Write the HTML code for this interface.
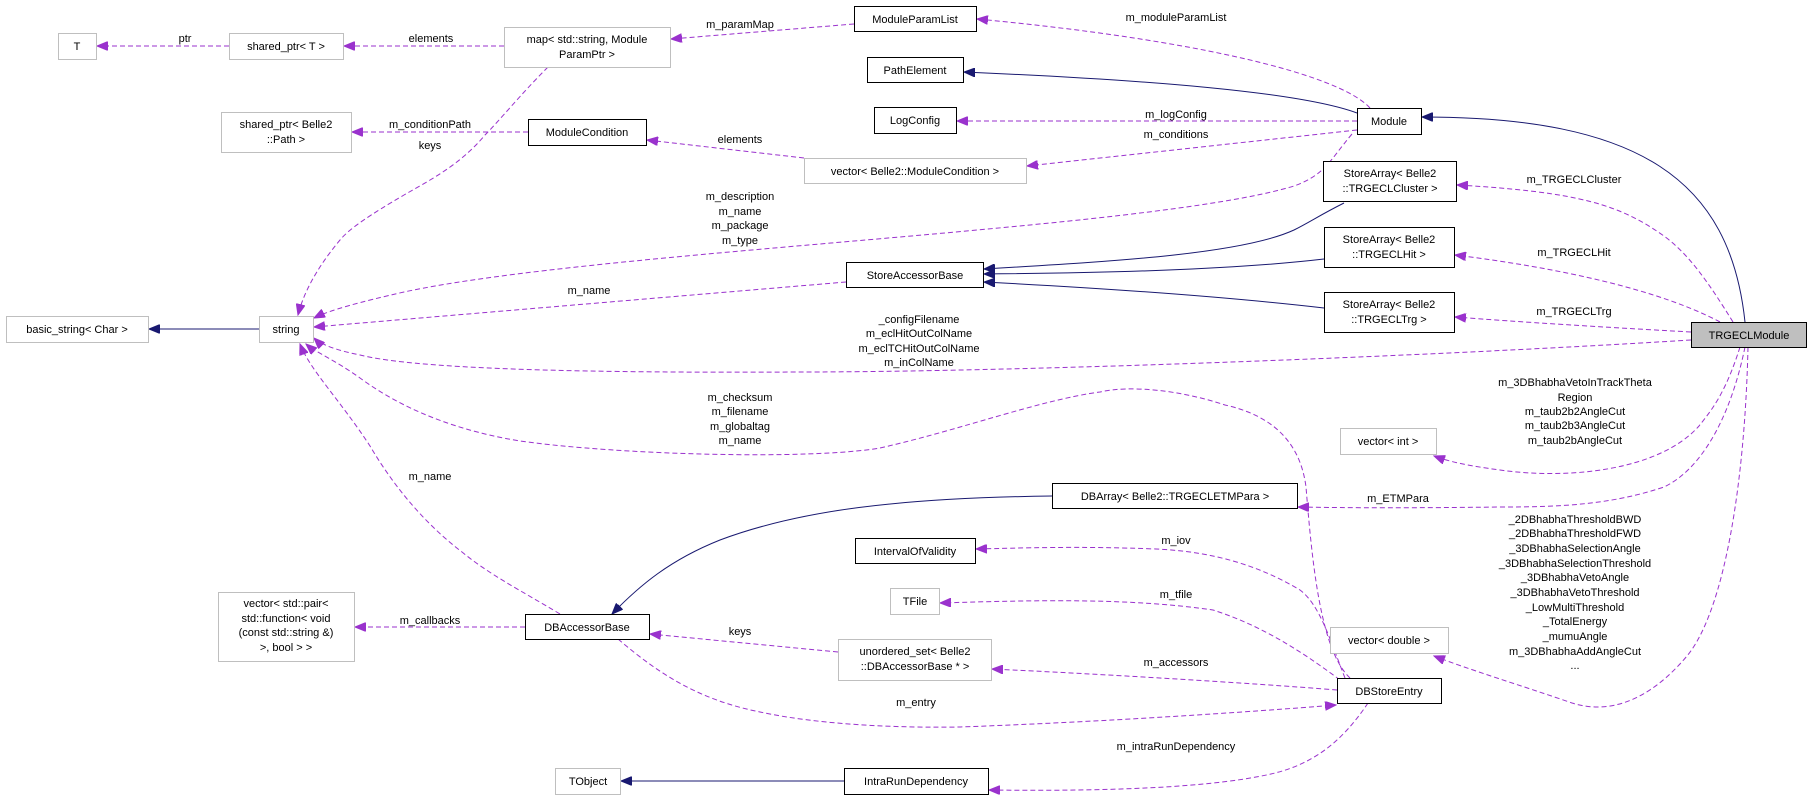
<!DOCTYPE html>
<html><head><meta charset="utf-8"><style>
html,body{margin:0;padding:0;background:#fff;}
svg{display:block;}
text{font-family:"Liberation Sans",Arial,sans-serif;font-size:11px;fill:#000;}
.n{fill:#fff;stroke:#000;stroke-width:1;}
.g{fill:#fff;stroke:#bfbfbf;stroke-width:1;}
.d{fill:none;stroke:#9a32cd;stroke-width:1;stroke-dasharray:5,3;}
.s{fill:none;stroke:#191970;stroke-width:1;}
</style></head><body>
<svg width="1812" height="800" viewBox="0 0 1812 800" xmlns="http://www.w3.org/2000/svg">
<defs>
<marker id="ap" markerWidth="12" markerHeight="9" refX="11" refY="4.5" orient="auto" markerUnits="userSpaceOnUse"><path d="M0,0 L11,4.5 L0,9 z" fill="#9a32cd" stroke="#9a32cd"/></marker>
<marker id="ab" markerWidth="12" markerHeight="9" refX="11" refY="4.5" orient="auto" markerUnits="userSpaceOnUse"><path d="M0,0 L11,4.5 L0,9 z" fill="#191970" stroke="#191970"/></marker>
</defs>

<!-- edges -->
<path class="d" marker-end="url(#ap)" d="M229,46 L97,46"/>
<path class="d" marker-end="url(#ap)" d="M504,46 L344,46"/>
<path class="d" marker-end="url(#ap)" d="M854,24 L671,39"/>
<path class="d" marker-end="url(#ap)" d="M528,132 L352,132"/>
<path class="d" marker-end="url(#ap)" d="M548,67 C520,95 500,120 485,135 C460,165 430,180 404,195 C370,215 350,228 340,240 C315,270 303,295 298,315"/>
<path class="d" marker-end="url(#ap)" d="M804,158 L647,140"/>
<path class="d" marker-end="url(#ap)" d="M1370,108 C1340,75 1200,40 977,19"/>
<path class="s" marker-end="url(#ab)" d="M1357,113 C1300,92 1150,80 964,72"/>
<path class="d" marker-end="url(#ap)" d="M1357,121 L957,121"/>
<path class="d" marker-end="url(#ap)" d="M1357,130 L1027,166"/>
<path class="d" marker-end="url(#ap)" d="M1352,134 C1330,160 1325,175 1294,186 C1150,230 600,250 404,292 C360,302 330,310 314,318"/>
<path class="d" marker-end="url(#ap)" d="M846,282 L314,327"/>
<path class="s" marker-end="url(#ab)" d="M1344,203 C1320,215 1310,222 1294,230 C1240,255 1100,262 984,269"/>
<path class="s" marker-end="url(#ab)" d="M1324,259 C1230,270 1100,273 984,274"/>
<path class="s" marker-end="url(#ab)" d="M1324,308 C1220,296 1100,288 984,282"/>
<path class="s" marker-end="url(#ab)" d="M1745,322 C1730,180 1640,117 1422,117"/>
<path class="d" marker-end="url(#ap)" d="M1733,322 C1710,285 1690,255 1664,236 C1620,205 1580,192 1457,185"/>
<path class="d" marker-end="url(#ap)" d="M1720,322 C1660,290 1560,268 1455,255"/>
<path class="d" marker-end="url(#ap)" d="M1691,332 C1600,327 1520,322 1455,317"/>
<path class="d" marker-end="url(#ap)" d="M1691,340 C1400,358 1000,372 800,372 C600,373 420,370 360,355 C335,350 320,344 314,338"/>
<path class="d" marker-end="url(#ap)" d="M1740,347 C1725,395 1710,412 1699,426 C1660,470 1570,480 1500,470 C1470,466 1450,462 1434,456"/>
<path class="d" marker-end="url(#ap)" d="M1745,347 C1730,420 1700,470 1664,487 C1610,505 1560,507 1500,507 C1420,508 1350,508 1298,507"/>
<path class="d" marker-end="url(#ap)" d="M1748,347 C1745,480 1725,610 1687,656 C1650,700 1610,715 1572,703 C1520,685 1470,670 1434,656"/>
<path class="d" marker-end="url(#ap)" d="M1350,678 C1320,650 1312,560 1306,487 C1300,440 1270,415 1225,405 C1180,390 1130,385 1100,392 C1040,400 960,430 880,448 C810,460 620,455 520,441 C440,428 390,400 360,378 C335,360 315,352 306,344"/>
<path class="d" marker-end="url(#ap)" d="M1345,678 C1330,640 1320,605 1300,590 C1250,560 1200,551 1156,549 C1080,546 1020,548 976,549"/>
<path class="d" marker-end="url(#ap)" d="M1340,680 C1300,650 1260,625 1213,610 C1130,598 1040,600 940,603"/>
<path class="d" marker-end="url(#ap)" d="M1337,690 C1250,683 1100,674 992,669"/>
<path class="d" marker-end="url(#ap)" d="M618,639 C660,675 700,700 760,712 C820,725 900,728 960,727 C1100,722 1250,712 1336,705"/>
<path class="d" marker-end="url(#ap)" d="M838,652 L650,634"/>
<path class="d" marker-end="url(#ap)" d="M525,627 L355,627"/>
<path class="d" marker-end="url(#ap)" d="M560,614 C520,590 490,575 462,552 C420,520 390,480 370,446 C340,400 310,370 300,344"/>
<path class="s" marker-end="url(#ab)" d="M1052,496 C900,498 800,510 720,540 C670,560 640,585 612,614"/>
<path class="s" marker-end="url(#ab)" d="M844,781 L621,781"/>
<path class="d" marker-end="url(#ap)" d="M1368,703 C1340,745 1310,765 1271,774 C1200,790 1080,791 989,790"/>
<path class="s" marker-end="url(#ab)" d="M259,329 L149,329"/>

<!-- edge labels -->
<g text-anchor="middle">
<text x="185" y="42">ptr</text>
<text x="431" y="42">elements</text>
<text x="740" y="28">m_paramMap</text>
<text x="430" y="128">m_conditionPath</text>
<text x="430" y="149">keys</text>
<text x="740" y="143">elements</text>
<text x="1176" y="21">m_moduleParamList</text>
<text x="1176" y="118">m_logConfig</text>
<text x="1176" y="138">m_conditions</text>
<text x="740" y="200">m_description</text>
<text x="740" y="215">m_name</text>
<text x="740" y="229">m_package</text>
<text x="740" y="244">m_type</text>
<text x="589" y="294">m_name</text>
<text x="1574" y="183">m_TRGECLCluster</text>
<text x="1574" y="256">m_TRGECLHit</text>
<text x="1574" y="315">m_TRGECLTrg</text>
<text x="919" y="323">_configFilename</text>
<text x="919" y="337">m_eclHitOutColName</text>
<text x="919" y="352">m_eclTCHitOutColName</text>
<text x="919" y="366">m_inColName</text>
<text x="740" y="401">m_checksum</text>
<text x="740" y="415">m_filename</text>
<text x="740" y="430">m_globaltag</text>
<text x="740" y="444">m_name</text>
<text x="1575" y="386">m_3DBhabhaVetoInTrackTheta</text>
<text x="1575" y="401">Region</text>
<text x="1575" y="415">m_taub2b2AngleCut</text>
<text x="1575" y="429">m_taub2b3AngleCut</text>
<text x="1575" y="444">m_taub2bAngleCut</text>
<text x="1398" y="502">m_ETMPara</text>
<text x="1575" y="523">_2DBhabhaThresholdBWD</text>
<text x="1575" y="537">_2DBhabhaThresholdFWD</text>
<text x="1575" y="552">_3DBhabhaSelectionAngle</text>
<text x="1575" y="567">_3DBhabhaSelectionThreshold</text>
<text x="1575" y="581">_3DBhabhaVetoAngle</text>
<text x="1575" y="596">_3DBhabhaVetoThreshold</text>
<text x="1575" y="611">_LowMultiThreshold</text>
<text x="1575" y="625">_TotalEnergy</text>
<text x="1575" y="640">_mumuAngle</text>
<text x="1575" y="655">m_3DBhabhaAddAngleCut</text>
<text x="1575" y="669">...</text>
<text x="1176" y="544">m_iov</text>
<text x="1176" y="598">m_tfile</text>
<text x="1176" y="666">m_accessors</text>
<text x="916" y="706">m_entry</text>
<text x="740" y="635">keys</text>
<text x="430" y="624">m_callbacks</text>
<text x="430" y="480">m_name</text>
<text x="1176" y="750">m_intraRunDependency</text>
</g>

<!-- nodes -->
<rect class="g" x="58.5" y="33.5" width="38" height="26"/>
<rect class="g" x="229.5" y="33.5" width="114" height="26"/>
<rect class="g" x="504.5" y="27.5" width="166" height="40"/>
<rect class="g" x="221.5" y="112.5" width="130" height="40"/>
<rect class="n" x="528.5" y="119.5" width="118" height="26"/>
<rect class="n" x="854.5" y="6.5" width="122" height="25"/>
<rect class="n" x="867.5" y="57.5" width="96" height="25"/>
<rect class="n" x="874.5" y="107.5" width="82" height="26"/>
<rect class="g" x="804.5" y="158.5" width="222" height="25"/>
<rect class="n" x="846.5" y="262.5" width="137" height="25"/>
<rect class="n" x="1357.5" y="108.5" width="64" height="26"/>
<rect class="n" x="1323.5" y="161.5" width="133" height="40"/>
<rect class="n" x="1324.5" y="227.5" width="130" height="40"/>
<rect class="n" x="1324.5" y="292.5" width="130" height="40"/>
<rect x="1691.5" y="322.5" width="115" height="25" fill="#bfbfbf" stroke="#000"/>
<rect class="g" x="1340.5" y="428.5" width="96" height="26"/>
<rect class="n" x="1052.5" y="483.5" width="245" height="25"/>
<rect class="n" x="855.5" y="538.5" width="120" height="25"/>
<rect class="g" x="890.5" y="588.5" width="49" height="26"/>
<rect class="g" x="838.5" y="639.5" width="153" height="41"/>
<rect class="n" x="1337.5" y="678.5" width="104" height="25"/>
<rect class="n" x="844.5" y="768.5" width="144" height="26"/>
<rect class="g" x="1330.5" y="627.5" width="118" height="26"/>
<rect class="n" x="525.5" y="614.5" width="124" height="25"/>
<rect class="g" x="218.5" y="592.5" width="136" height="69"/>
<rect class="g" x="555.5" y="768.5" width="65" height="26"/>
<rect class="g" x="259.5" y="316.5" width="54" height="26"/>
<rect class="g" x="6.5" y="316.5" width="142" height="26"/>

<g text-anchor="middle">
<text x="77" y="50">T</text>
<text x="286" y="50">shared_ptr&lt; T &gt;</text>
<text x="587" y="43">map&lt; std::string, Module</text>
<text x="587" y="58">ParamPtr &gt;</text>
<text x="286" y="128">shared_ptr&lt; Belle2</text>
<text x="286" y="143">::Path &gt;</text>
<text x="587" y="136">ModuleCondition</text>
<text x="915" y="23">ModuleParamList</text>
<text x="915" y="74">PathElement</text>
<text x="915" y="124">LogConfig</text>
<text x="915" y="175">vector&lt; Belle2::ModuleCondition &gt;</text>
<text x="915" y="279">StoreAccessorBase</text>
<text x="1389" y="125">Module</text>
<text x="1390" y="177">StoreArray&lt; Belle2</text>
<text x="1390" y="192">::TRGECLCluster &gt;</text>
<text x="1389" y="243">StoreArray&lt; Belle2</text>
<text x="1389" y="258">::TRGECLHit &gt;</text>
<text x="1389" y="308">StoreArray&lt; Belle2</text>
<text x="1389" y="323">::TRGECLTrg &gt;</text>
<text x="1749" y="339">TRGECLModule</text>
<text x="1388" y="445">vector&lt; int &gt;</text>
<text x="1175" y="500">DBArray&lt; Belle2::TRGECLETMPara &gt;</text>
<text x="915" y="555">IntervalOfValidity</text>
<text x="915" y="605">TFile</text>
<text x="915" y="655">unordered_set&lt; Belle2</text>
<text x="915" y="670">::DBAccessorBase * &gt;</text>
<text x="1389" y="695">DBStoreEntry</text>
<text x="916" y="785">IntraRunDependency</text>
<text x="1389" y="644">vector&lt; double &gt;</text>
<text x="587" y="631">DBAccessorBase</text>
<text x="286" y="607">vector&lt; std::pair&lt;</text>
<text x="286" y="622">std::function&lt; void</text>
<text x="286" y="636">(const std::string &amp;)</text>
<text x="286" y="651">&gt;, bool &gt; &gt;</text>
<text x="588" y="785">TObject</text>
<text x="286" y="333">string</text>
<text x="77" y="333">basic_string&lt; Char &gt;</text>
</g>
</svg>
</body></html>
